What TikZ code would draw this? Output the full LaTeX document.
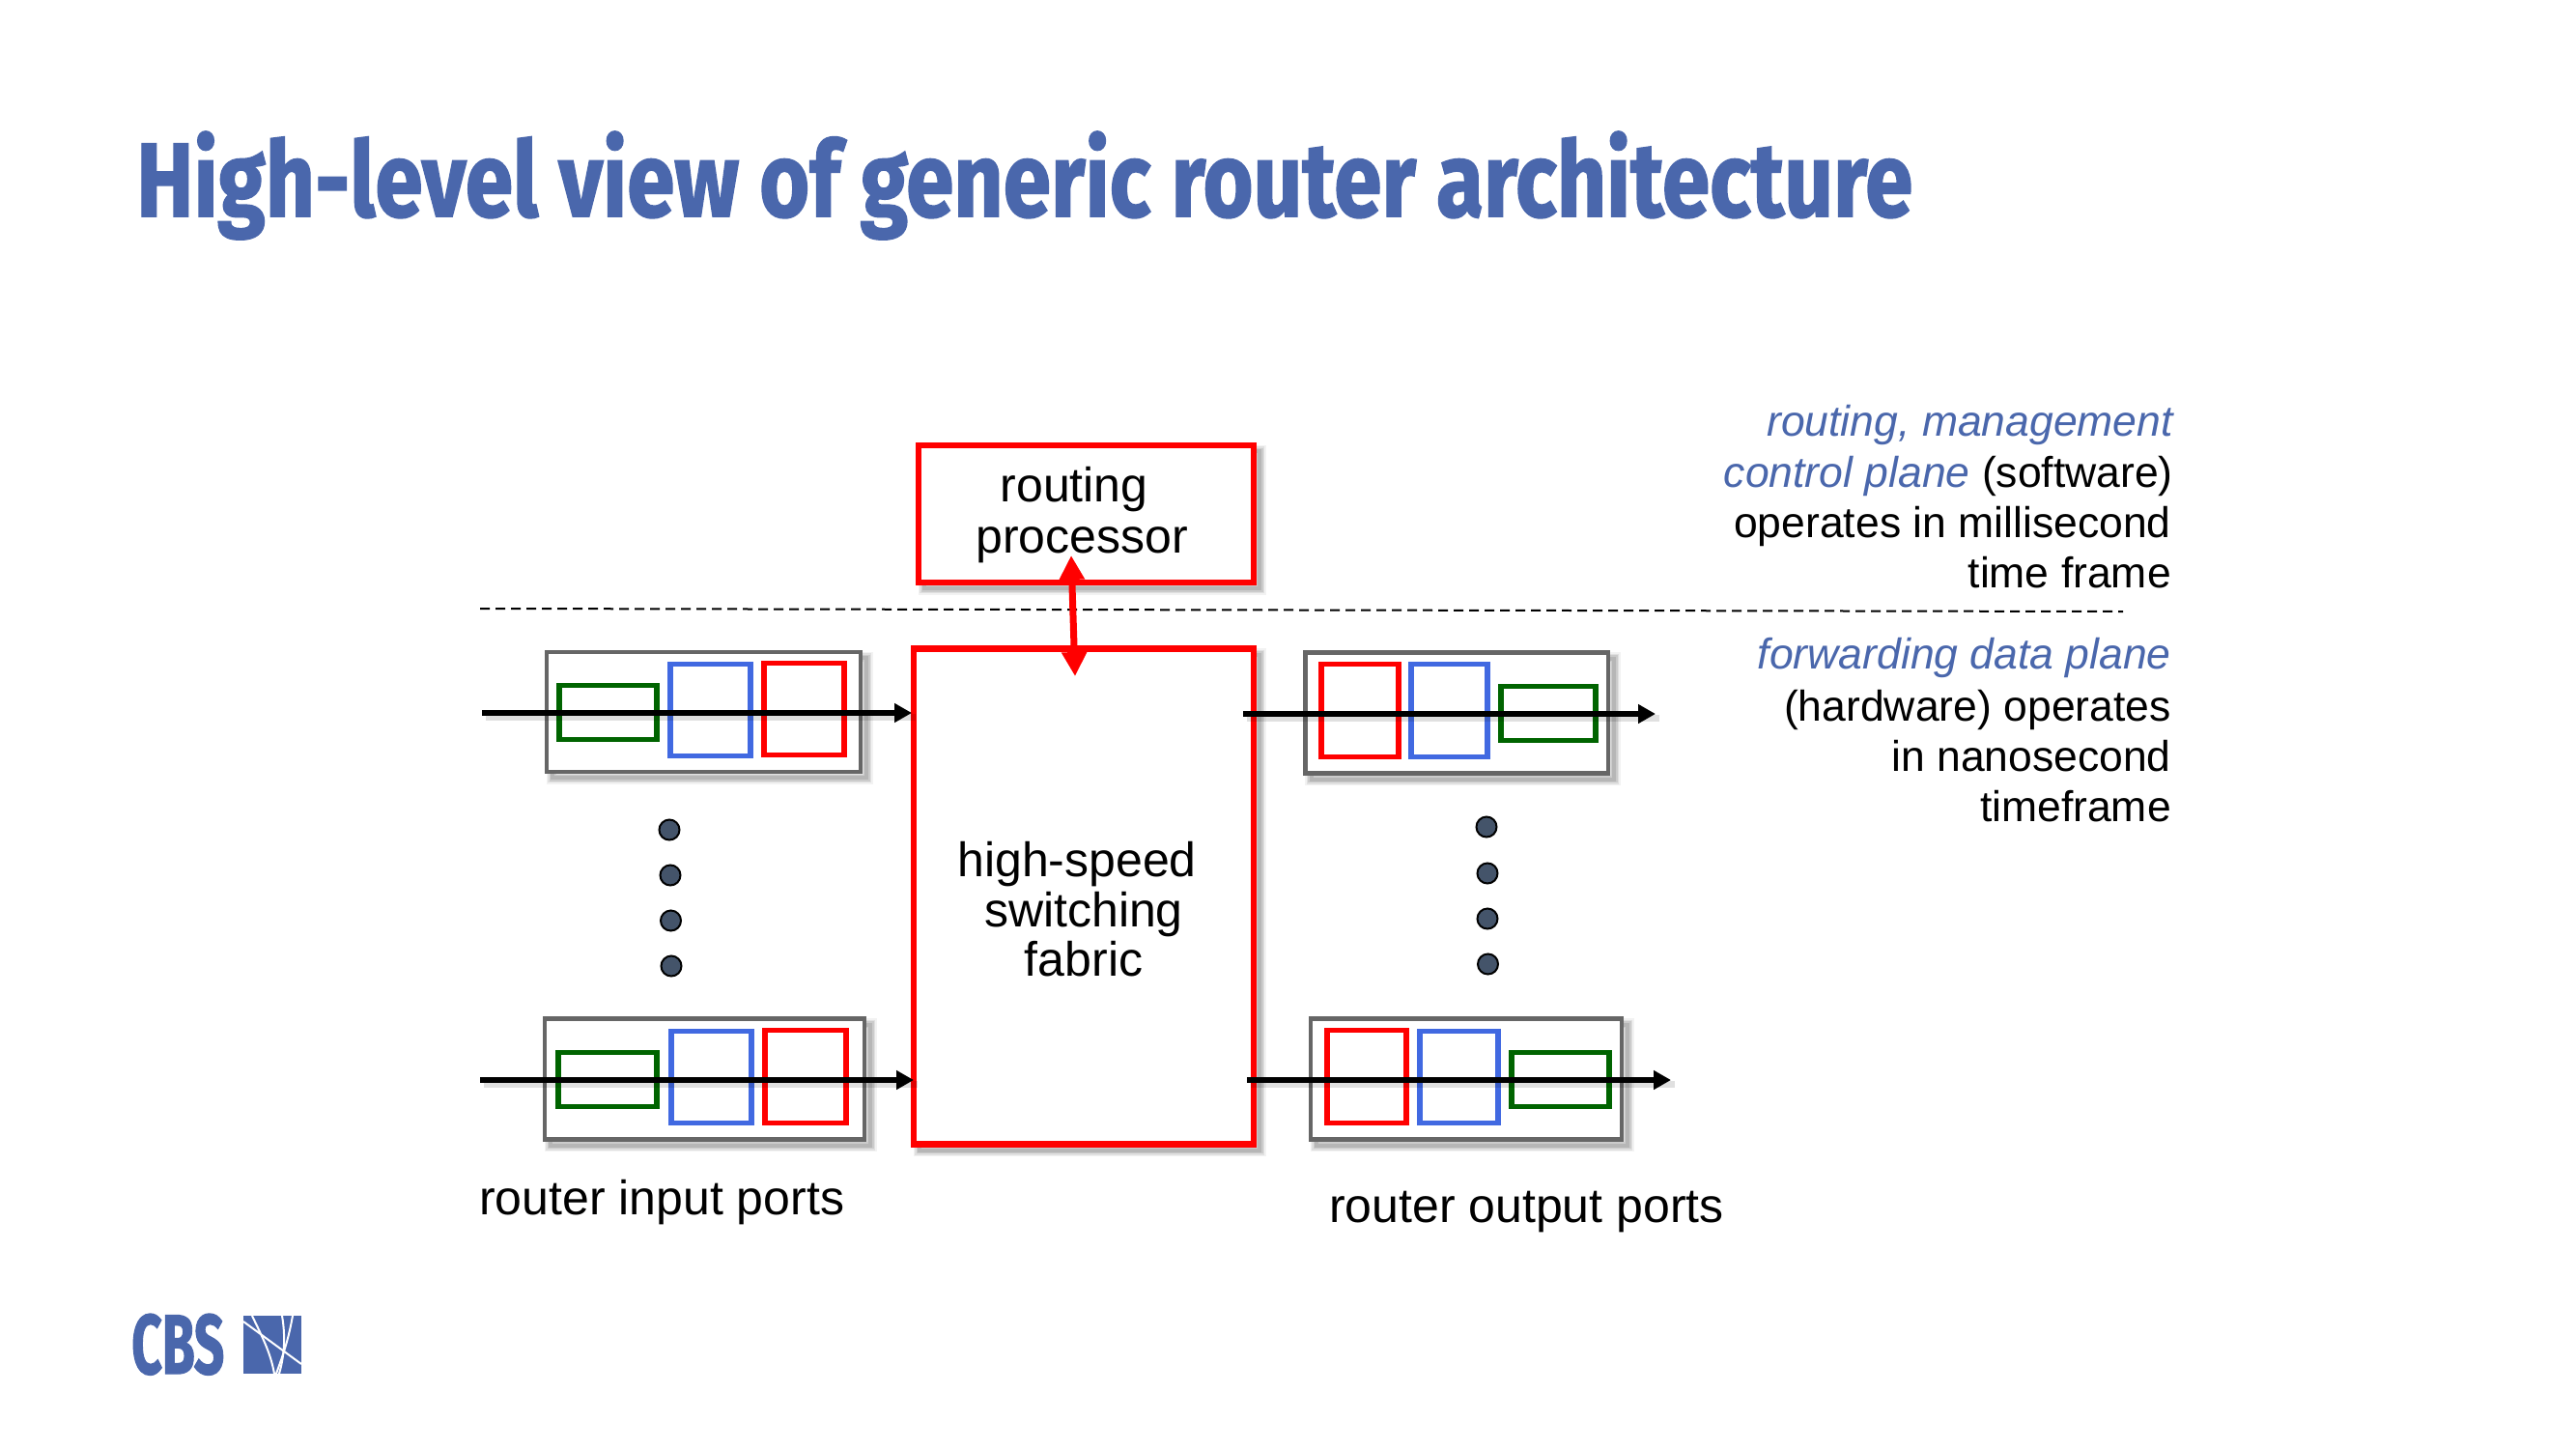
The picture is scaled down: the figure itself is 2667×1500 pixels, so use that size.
\documentclass[tikz,border=0pt]{standalone}
\usepackage{fontspec}
\usepackage{graphicx}
\usetikzlibrary{arrows.meta}
\setmainfont{Liberation Sans}
\newfontfamily\titlefont[FakeBold=1.6]{Fira Sans Bold}
\definecolor{slideblue}{HTML}{4A67AC}
\definecolor{portgray}{HTML}{666666}
\definecolor{pktblue}{HTML}{4169E1}
\definecolor{pktgreen}{HTML}{006400}
\definecolor{dotfill}{HTML}{44546A}
\tikzset{
  softshadow/.style={
    preaction={draw=black,draw opacity=.05,line width=13pt,transform canvas={xshift=6pt,yshift=-6pt}},
    preaction={draw=black,draw opacity=.07,line width=10pt,transform canvas={xshift=6pt,yshift=-6pt}},
    preaction={draw=black,draw opacity=.09,line width=7pt,transform canvas={xshift=6pt,yshift=-6pt}},
    preaction={draw=black,draw opacity=.10,line width=4pt,transform canvas={xshift=6pt,yshift=-6pt}}},
  boxbase/.style={rectangle,inner sep=0pt,outer sep=0pt},
  portbox/.style={boxbase,softshadow,draw=portgray,line width=4.5pt,fill=white},
  redbox/.style={boxbase,softshadow,draw=red,line width=6.5pt,fill=white},
  pktred/.style={boxbase,draw=red,line width=5.5pt},
  pktblu/.style={boxbase,draw=pktblue,line width=5.5pt},
  pktgrn/.style={boxbase,draw=pktgreen,line width=5.5pt},
  flowshadow/.style={draw=black,draw opacity=.12,line width=7pt},
  flowarrow/.style={draw=black,line width=6pt,-{Triangle[length=18pt,width=19pt]}},
  ctrlarrow/.style={draw=red,line width=7pt,{Triangle[length=25pt,width=25pt]}-{Triangle[length=25pt,width=25pt]}},
  planeline/.style={draw=black,line width=2pt,dash pattern=on 10pt off 6pt},
  dotnode/.style={circle,draw=black,line width=2pt,fill=dotfill,minimum size=21pt,inner sep=0pt},
  lbl/.style={inner sep=0pt,anchor=base,font=\fontsize{50}{52}\selectfont},
  lbll/.style={inner sep=0pt,anchor=base west,font=\fontsize{50}{52}\selectfont},
  lblr/.style={inner sep=0pt,anchor=base east,font=\fontsize{44.5}{52}\selectfont},
  logoline/.style={draw=white,line width=2pt}
}
\begin{document}
\begin{tikzpicture}[x=1pt,y=-1pt]
\useasboundingbox (0,0) rectangle (2667,1500);
\fill[white] (0,0) rectangle (2667,1500);
% title
\node[inner sep=0pt,anchor=base west,text=slideblue] (title) at (141,224)
  {\resizebox{1839pt}{88pt}{\titlefont High-level view of generic router architecture}};
% plane separator
\coordinate (pl) at (497,630);
\coordinate (pr) at (2198,633);
\draw[planeline] (pl) -- (pr);
% large boxes
\node[redbox,minimum width=347pt,minimum height=142pt] (rp) at (1124.5,532) {};
\node[redbox,minimum width=352pt,minimum height=513pt] (fabric) at (1122,928) {};
% input port 1
\node[portbox,minimum width=325pt,minimum height=124pt] (in1) at (728.5,737) {};
\node[pktgrn,minimum width=101pt,minimum height=56pt] (in1g) at (629.5,737.5) {};
\node[pktblu,minimum width=83pt,minimum height=95pt] (in1b) at (735.5,735) {};
\node[pktred,minimum width=83pt,minimum height=95pt] (in1r) at (832.5,734) {};
% input port 2
\node[portbox,minimum width=331pt,minimum height=125pt] (in2) at (729.5,1117) {};
\node[pktgrn,minimum width=102pt,minimum height=56pt] (in2g) at (629,1117.5) {};
\node[pktblu,minimum width=83pt,minimum height=95pt] (in2b) at (736.5,1115) {};
\node[pktred,minimum width=84pt,minimum height=96pt] (in2r) at (834,1114.5) {};
% output port 1
\node[portbox,minimum width=313.5pt,minimum height=125pt] (out1) at (1508.25,738) {};
\node[pktred,minimum width=80pt,minimum height=96pt] (out1r) at (1408,735.5) {};
\node[pktblu,minimum width=79pt,minimum height=96pt] (out1b) at (1500.5,735.5) {};
\node[pktgrn,minimum width=98pt,minimum height=56pt] (out1g) at (1603,738.5) {};
% output port 2
\node[portbox,minimum width=322pt,minimum height=125pt] (out2) at (1518,1117) {};
\node[pktred,minimum width=82pt,minimum height=96pt] (out2r) at (1415,1114.5) {};
\node[pktblu,minimum width=81pt,minimum height=95pt] (out2b) at (1510.5,1115) {};
\node[pktgrn,minimum width=101pt,minimum height=56pt] (out2g) at (1615.5,1117.5) {};
% flow arrows
\coordinate (a1s) at (499,738);  \coordinate (a1e) at (944,738);
\coordinate (a2s) at (497,1118); \coordinate (a2e) at (946,1118);
\coordinate (a3s) at (1287,739); \coordinate (a3e) at (1714,739);
\coordinate (a4s) at (1291,1118);\coordinate (a4e) at (1730,1118);
\draw[flowshadow,transform canvas={xshift=4pt,yshift=-4pt}] (a3s) -- (a3e);
\draw[flowshadow,transform canvas={xshift=4pt,yshift=-4pt}] (a4s) -- (a4e);
\draw[flowshadow,transform canvas={xshift=4pt,yshift=-4pt}] (a1s) -- (a1e);
\draw[flowshadow,transform canvas={xshift=4pt,yshift=-4pt}] (a2s) -- (a2e);
\draw[flowarrow] (a1s) -- (a1e);
\draw[flowarrow] (a2s) -- (a2e);
\draw[flowarrow] (a3s) -- (a3e);
\draw[flowarrow] (a4s) -- (a4e);
% control arrow
\coordinate (cu) at (1109,575);
\coordinate (cd) at (1113,700);
\draw[ctrlarrow] (cu) -- (cd);
% dots
\node[dotnode] (d1) at (693,859) {};
\node[dotnode] (d2) at (694,906) {};
\node[dotnode] (d3) at (694.5,953) {};
\node[dotnode] (d4) at (695,1000) {};
\node[dotnode] (d5) at (1539,856) {};
\node[dotnode] (d6) at (1540,904) {};
\node[dotnode] (d7) at (1540,951) {};
\node[dotnode] (d8) at (1540.5,998) {};
% box labels
\node[lbl] (t1) at (1112,519) {routing};
\node[lbl] (t2) at (1120,572) {processor};
\node[lbl] (t3) at (1115,907) {high-speed};
\node[lbl] (t4) at (1122,959) {switching};
\node[lbl] (t5) at (1122,1010) {fabric};
\node[lbll] (t6) at (496,1257) {router input ports};
\node[lbll] (t7) at (1376,1265) {router output ports};
% side notes
\node[lblr,text=slideblue] (n1) at (2250,451) {\itshape routing, management};
\node[lblr] (n2) at (2250,504) {\textcolor{slideblue}{\itshape control plane} (software)};
\node[lblr] (n3) at (2248,556) {operates in millisecond};
\node[lblr] (n4) at (2248,608) {time frame};
\node[lblr,text=slideblue] (n5) at (2248,692) {\itshape forwarding data plane};
\node[lblr] (n6) at (2248,746) {(hardware) operates};
\node[lblr] (n7) at (2248,798) {in nanosecond};
\node[lblr] (n8) at (2248,850) {timeframe};
% logo
\node[inner sep=0pt,anchor=base west,text=slideblue] (cbs) at (136,1422)
  {\resizebox{96pt}{62pt}{\titlefont CBS}};
\fill[slideblue] (252,1362) rectangle (312,1422);
\draw[logoline] (252,1368) -- (312,1412);
\draw[logoline] (261,1362) .. controls (272,1385) and (280,1400) .. (284,1422);
\draw[logoline] (303,1362) .. controls (298,1390) and (292,1405) .. (286,1422);
\draw[logoline] (292,1362) .. controls (296,1385) and (294,1405) .. (289,1422);
\end{tikzpicture}
\end{document}
